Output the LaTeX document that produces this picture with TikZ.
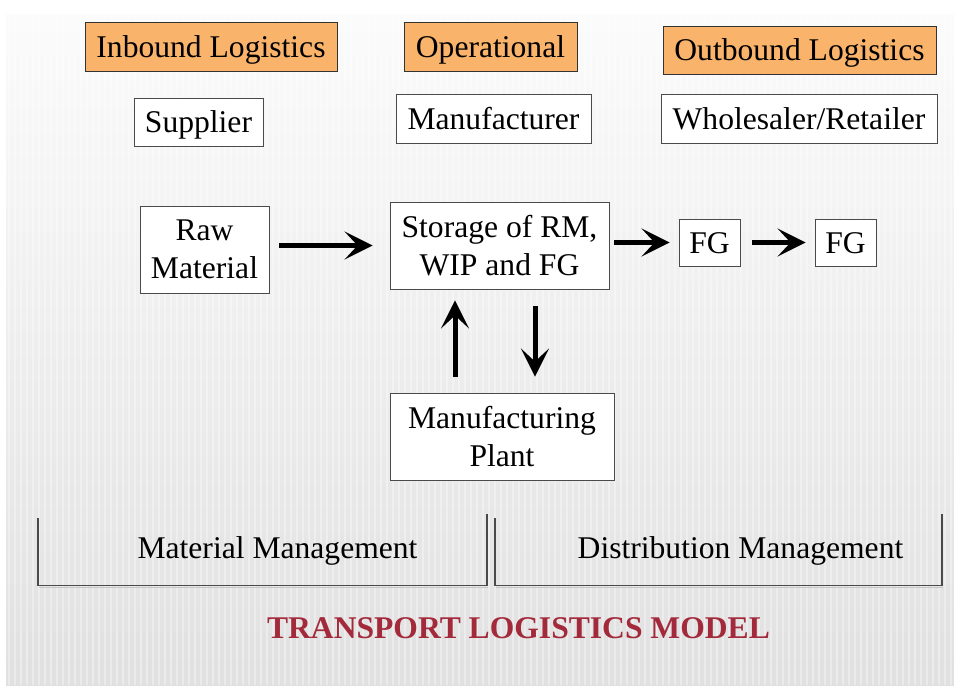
\documentclass[tikz,border=0pt]{standalone}
\usepackage{fontspec}
\setmainfont{Liberation Serif}
\usetikzlibrary{arrows.meta}
\definecolor{headfill}{HTML}{F9B36B}
\definecolor{titlered}{HTML}{A32A3B}
\definecolor{edgegray}{HTML}{4A4A4A}
\tikzset{
  box/.style={draw=edgegray, line width=0.9pt, fill=white, inner sep=0pt,
    align=center, font=\fontsize{31.6}{38}\selectfont},
  headbox/.style={box, fill=headfill, draw=black!80},
  oneline/.style={text height=21pt, text depth=0pt},
  flow/.style={line width=5pt, -{Stealth[length=28pt,width=28pt,inset=13pt]}},
  bracket/.style={draw=edgegray, line width=1.1pt},
  label/.style={font=\fontsize{31.6}{38}\selectfont, inner sep=0pt}
}
\begin{document}
\begin{tikzpicture}[x=1pt,y=-1pt]
  % canvas and shaded backdrop with faint vertical stripes
  \fill[white] (0,0) rectangle (954,685);
  \shade[top color=gray!3, bottom color=gray!24] (6,14) rectangle (954,685);
  \foreach \x in {9,15,...,951}
    \draw[white, opacity=0.35, line width=1.6pt] (\x,14) -- (\x,685);
  \useasboundingbox (0,0) rectangle (954,685);

  % headers
  \node[headbox, oneline, minimum width=252pt, minimum height=49pt] (inb) at (211,46.5) {Inbound Logistics};
  \node[headbox, oneline, minimum width=173pt, minimum height=49pt] (ops) at (490.5,46.5) {Operational};
  \node[headbox, oneline, minimum width=273pt, minimum height=48pt] (outb) at (799.5,50) {Outbound Logistics};

  % actors
  \node[box, oneline, minimum width=129pt, minimum height=48pt] (sup) at (198.5,122) {Supplier};
  \node[box, oneline, minimum width=195pt, minimum height=49pt] (man) at (493.5,118.5) {Manufacturer};
  \node[box, oneline, minimum width=276pt, minimum height=49pt] (whr) at (799,118.5) {Wholesaler/Retailer};

  % flow boxes
  \node[box, minimum width=129pt, minimum height=87pt] (raw) at (204.5,249.5) {Raw\\Material};
  \node[box, minimum width=219pt, minimum height=87pt] (sto) at (499.5,245.5) {Storage of RM,\\WIP and FG};
  \node[box, oneline, minimum width=61pt, minimum height=47pt] (fga) at (709.5,242.5) {FG};
  \node[box, oneline, minimum width=61pt, minimum height=47pt] (fgb) at (845.5,242.5) {FG};
  \node[box, minimum width=224pt, minimum height=87pt] (plant) at (502,436.5) {Manufacturing\\Plant};

  % flow arrows
  \draw[flow, shorten <=10pt, shorten >=17pt] (raw.east |- sto.west) -- (sto.west);
  \draw[flow, shorten <=5pt, shorten >=9pt] (sto.east |- fga.west) -- (fga.west);
  \draw[flow, shorten <=12pt, shorten >=9pt] (fga.east) -- (fgb.west);
  \draw[flow, shorten <=16pt, shorten >=11pt] ([xshift=-47pt]plant.north) -- ([xshift=-47pt]plant.north |- sto.south);
  \draw[flow, shorten <=17pt, shorten >=16pt] ([xshift=33pt]plant.north |- sto.south) -- ([xshift=33pt]plant.north);

  % management brackets
  \draw[gray!45, line width=1.6pt] (39,587.5) -- (488,587.5);
  \draw[gray!45, line width=1.6pt] (496,587.5) -- (943,587.5);
  \draw[bracket] (38,518) -- (38,585.5) -- (487,585.5) -- (487,514);
  \draw[bracket] (495,518) -- (495,585.5) -- (942,585.5) -- (942,514);
  \node[label, oneline] (mm) at (277.5,548) {Material Management};
  \node[label, oneline] (dm) at (740.5,548) {Distribution Management};

  % caption
  \node[label, oneline, font=\fontsize{31.6}{38}\selectfont\bfseries, text=titlered] (title) at (518.5,628) {TRANSPORT LOGISTICS MODEL};
\end{tikzpicture}
\end{document}
